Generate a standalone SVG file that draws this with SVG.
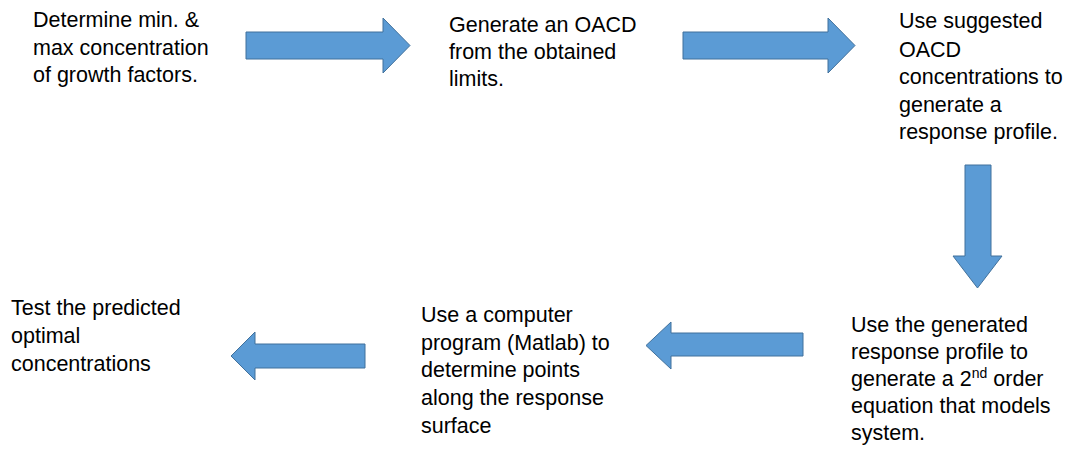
<svg xmlns="http://www.w3.org/2000/svg" width="1070" height="451" viewBox="0 0 1070 451">
<style>
.t{font-family:"Liberation Sans",Arial,sans-serif;font-size:21.5px;fill:#000}
.arr{fill:#5B9BD5;stroke:#41719C;stroke-width:1}
</style>
<rect width="1070" height="451" fill="#fff"/>
<g id="connectors">
<polygon class="arr" points="246,32 383,32 383,18 410,45.5 383,73 383,59 246,59"/>
<polygon class="arr" points="683,32 828,32 828,18 855,45.5 828,73 828,59 683,59"/>
<polygon class="arr" points="965,165 991,165 991,256 1002,256 977.5,288 953,256 965,256"/>
<polygon class="arr" points="803,333 671,333 671,322 646,345.5 671,369 671,356 803,356"/>
<polygon class="arr" points="365,344 255,344 255,332 231,356 255,380 255,368 365,368"/>
</g>
<g id="n1"><text class="t" x="33"><tspan x="33" y="27">Determine min. &amp;</tspan><tspan x="33" y="55">max concentration</tspan><tspan x="33" y="82">of growth factors.</tspan></text></g>
<g id="n2"><text class="t"><tspan x="449" y="32">Generate an OACD</tspan><tspan x="449" y="59">from the obtained</tspan><tspan x="449" y="86">limits.</tspan></text></g>
<g id="n3"><text class="t"><tspan x="899" y="28">Use suggested</tspan><tspan x="899" y="57">OACD</tspan><tspan x="899" y="84">concentrations to</tspan><tspan x="899" y="112">generate a</tspan><tspan x="899" y="139">response profile.</tspan></text></g>
<g id="n4"><text class="t"><tspan x="851" y="332">Use the generated</tspan><tspan x="851" y="359">response profile to</tspan><tspan x="851" y="386">generate a 2<tspan font-size="14px" dy="-8">nd</tspan><tspan dy="8"> order</tspan></tspan><tspan x="851" y="413">equation that models</tspan><tspan x="851" y="440">system.</tspan></text></g>
<g id="n5"><text class="t"><tspan x="421" y="322">Use a computer</tspan><tspan x="421" y="350">program (Matlab) to</tspan><tspan x="421" y="377">determine points</tspan><tspan x="421" y="405">along the response</tspan><tspan x="421" y="433">surface</tspan></text></g>
<g id="n6"><text class="t"><tspan x="11" y="315">Test the predicted</tspan><tspan x="11" y="343">optimal</tspan><tspan x="11" y="371">concentrations</tspan></text></g>
</svg>
